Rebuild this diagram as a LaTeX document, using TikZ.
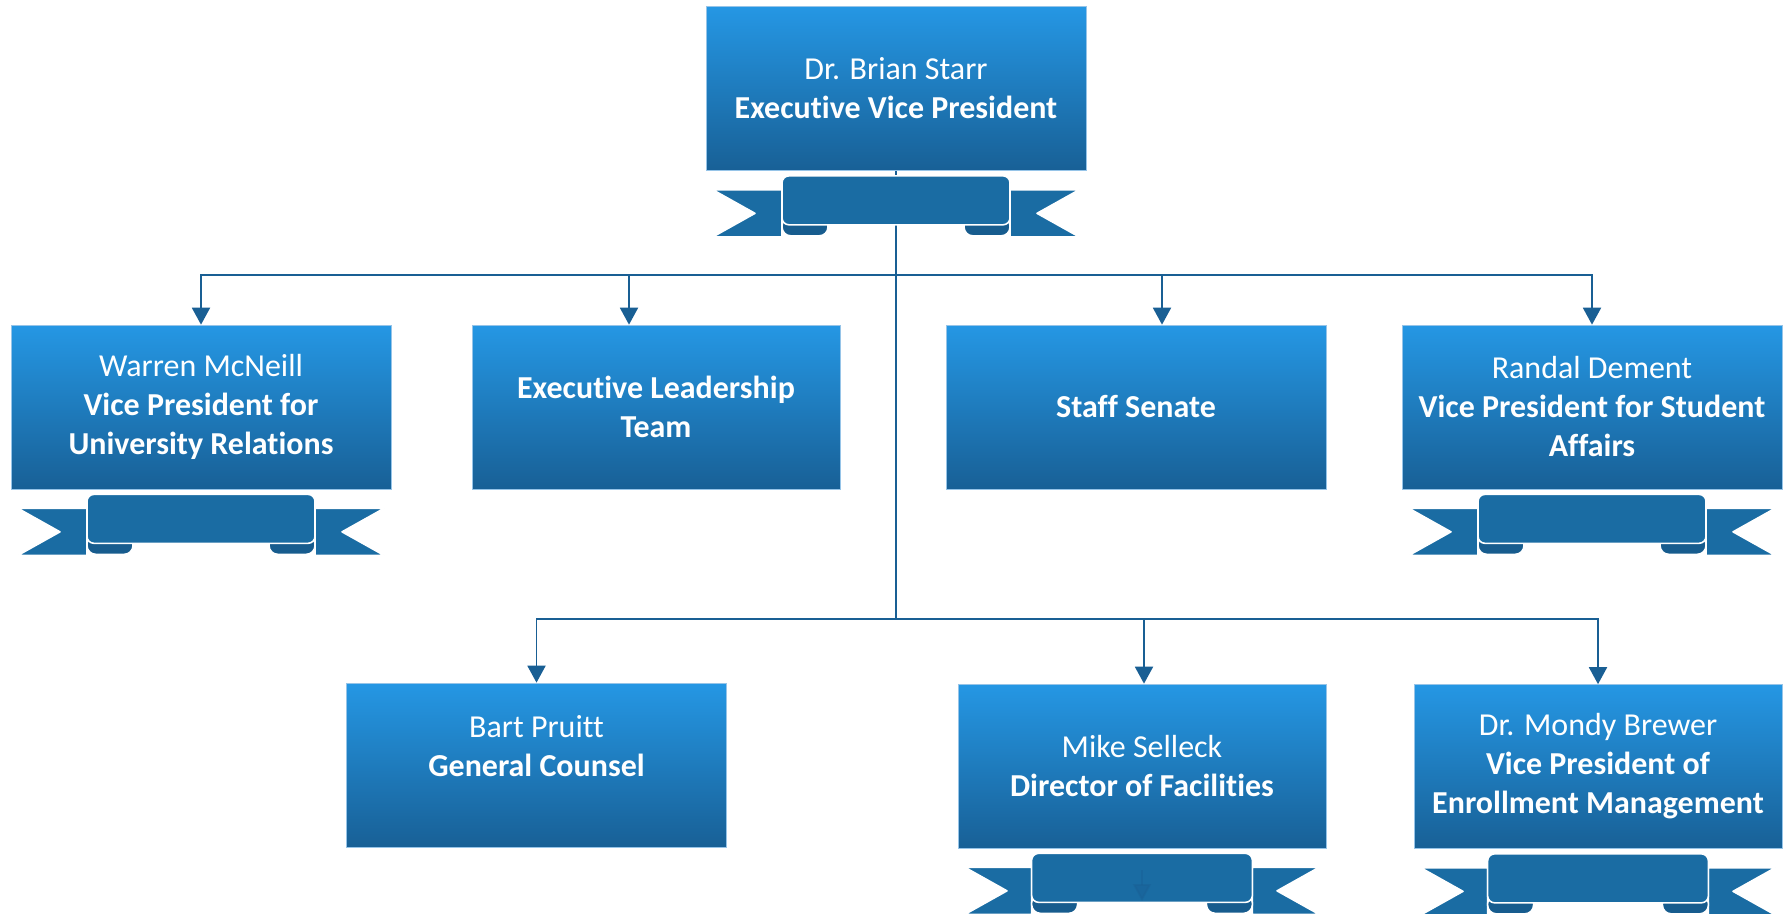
\documentclass[tikz,border=0pt]{standalone}
\usepackage{fontspec}
\setmainfont{Carlito}[Ligatures=NoCommon]
\usepackage{tikz, xcolor}
\usetikzlibrary{arrows.meta}

\definecolor{boxtop}{RGB}{37,151,228}
\definecolor{boxbot}{RGB}{24,96,150}
\definecolor{boxedge}{RGB}{150,196,232}
\definecolor{ribbonblue}{RGB}{26,108,163}
\definecolor{rolldark}{RGB}{23,92,142}
\definecolor{linkblue}{RGB}{25,95,148}

\begin{document}
\begin{tikzpicture}[x=0.02cm, y=-0.02cm]
\tikzstyle{boxr}=[rectangle, draw=boxedge, line width=0.4pt, top color=boxtop, bottom color=boxbot, text=white, align=center, font=\fontsize{18.2}{22.2}\selectfont, minimum width=7.6cm, minimum height=3.28cm, inner sep=0pt]
\tikzstyle{boxn}=[boxr, minimum width=7.36cm]
\tikzstyle{linestyle}=[linkblue, line width=1.1pt]
\tikzstyle{drawstyle}=[linestyle, -{Triangle[width=0.36cm, length=0.34cm]}]
\tikzstyle{ribbonline}=[draw=white, line width=0.9pt, line join=round]
\tikzset{pics/ribbon/.style={code={
  \draw[ribbonline, fill=ribbonblue] ({-#1+7},19) -- ({-0.6*#1},19) -- ({-0.6*#1},66) -- ({-#1+7},66) -- ({-#1+49},42.5) -- cycle;
  \draw[ribbonline, fill=ribbonblue] ({#1-7},19) -- ({0.6*#1},19) -- ({0.6*#1},66) -- ({#1-7},66) -- ({#1-49},42.5) -- cycle;
  \draw[ribbonline, fill=rolldark, rounded corners=5] ({-0.6*#1},46) rectangle ({-0.6*#1+46},65);
  \draw[ribbonline, fill=rolldark, rounded corners=5] ({0.6*#1-46},46) rectangle ({0.6*#1},65);
  \draw[ribbonline, fill=ribbonblue, rounded corners=4] ({-0.6*#1},54) -- ({-0.6*#1},5) -- ({0.6*#1},5) -- ({0.6*#1},54) -- cycle;
}}}

\useasboundingbox[fill=white] (0,0) rectangle (1788,913);

\node[boxr] (G0x0) at (896,88.5) {Dr. Brian Starr\\\textbf{Executive Vice President}};

\node[boxr] (G0x1) at (201,407) {Warren McNeill\\\textbf{Vice President for}\\\textbf{University Relations}};
\node[boxn] (G1x1) at (656,407) {\textbf{Executive Leadership}\\\textbf{Team}};
\node[boxr] (G2x1) at (1136,407) {\textbf{Staff Senate}};
\node[boxr] (G3x1) at (1592,407) {Randal Dement\\\textbf{Vice President for Student}\\\textbf{Affairs}};

\node[boxr] (G0x2) at (536.5,765) {Bart Pruitt\\\textbf{General Counsel}\\\mbox{}};
\node[boxn] (G1x2) at (1142,766) {Mike Selleck\\\textbf{Director of Facilities}};
\node[boxn] (G2x2) at (1598,766.5) {Dr. Mondy Brewer\\\textbf{Vice President of}\\\textbf{Enrollment Management}};

\coordinate (J1) at (896,275);
\coordinate (J2) at (896,619);
\draw[linestyle] (G0x0.south) -- (J2);

\pic at (G0x0.south) {ribbon=190};
\pic at (G0x1.south) {ribbon=190};
\pic at (G3x1.south) {ribbon=190};
\pic at (G1x2.south) {ribbon=184};
\pic at (G2x2.south) {ribbon=184};

\draw[drawstyle] (J1) -| (G0x1.north);
\draw[drawstyle] (J1) -| ([xshift=-0.54cm]G1x1.north);
\draw[drawstyle] (J1) -| ([xshift=0.52cm]G2x1.north);
\draw[drawstyle] (J1) -| (G3x1.north);

\draw[drawstyle] (J2) -| (G0x2.north);
\draw[drawstyle] (J2) -| ([xshift=0.04cm]G1x2.north);
\draw[drawstyle] (J2) -| (G2x2.north);

\coordinate (S1) at (1142,870);
\coordinate (S2) at (1142,901);
\draw[drawstyle, opacity=0.4] (S1) -- (S2);
\end{tikzpicture}
\end{document}
